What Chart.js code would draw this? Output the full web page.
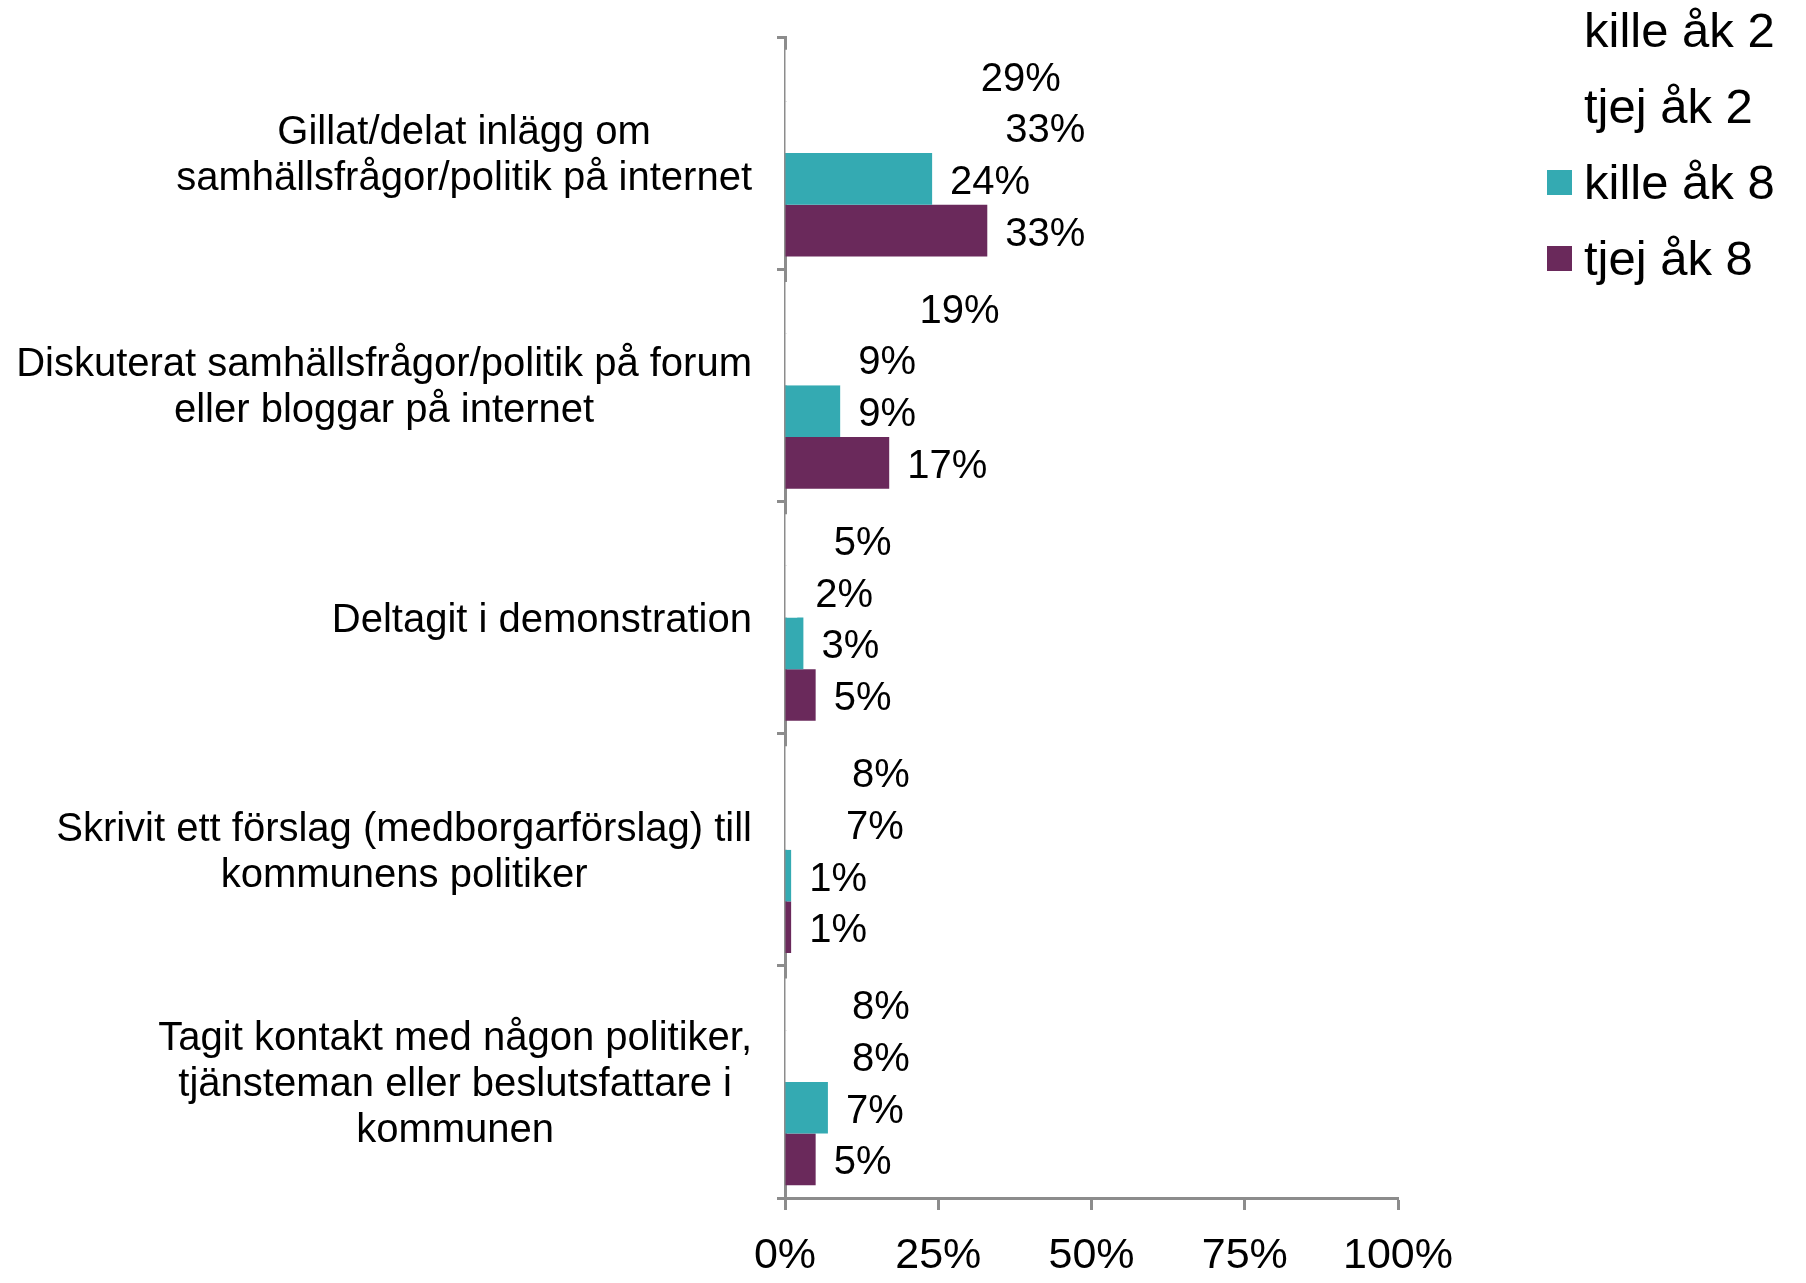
<!DOCTYPE html>
<html lang="sv">
<head>
    <meta charset="UTF-8">
    <title>Politiskt deltagande</title>
    <style>
        body { margin: 0; background: #fff; }
        #wrap { position: relative; width: 1806px; height: 1283px; }
        #legend {
            position: absolute; left: 1547px; top: -8px;
            font-family: 'Liberation Sans', Arial, sans-serif; font-size: 49px; color: #000;
        }
        .item { display: flex; align-items: center; height: 76px; white-space: nowrap; }
        .box { width: 25px; height: 25px; margin-right: 12px; }
    </style>
    <script src="https://cdn.jsdelivr.net/npm/chart.js"></script>
</head>
<body>
    <div id="wrap">
        <canvas id="myChart"></canvas>
        <div id="legend"></div>
    </div>
    <script>
        // data
        const categories = [
            ['Gillat/delat inlägg om', 'samhällsfrågor/politik på internet'],
            ['Diskuterat samhällsfrågor/politik på forum', 'eller bloggar på internet'],
            ['Deltagit i demonstration'],
            ['Skrivit ett förslag (medborgarförslag) till', 'kommunens politiker'],
            ['Tagit kontakt med någon politiker,', 'tjänsteman eller beslutsfattare i', 'kommunen']
        ];
        const seriesNames = ['kille åk 2', 'tjej åk 2', 'kille åk 8', 'tjej åk 8'];
        const killeAk2 = [29, 19, 5, 8, 8];
        const tjejAk2 = [33, 9, 2, 7, 8];
        const killeAk8 = [24, 9, 3, 1, 7];
        const tjejAk8 = [33, 17, 5, 1, 5];
        const xTicks = [0, 25, 50, 75, 100];

        const seriesColors = ['#ffffff', '#ffffff', '#34aab2', '#6a295b'];
        const FONT = "'Liberation Sans', Arial, sans-serif";
        const axisGray = '#8c8c8c';

        Chart.defaults.font.family = FONT;
        Chart.defaults.color = '#000';

        // kategori-etiketter, centrerade rader, högerställt block
        const catLabels = {
            id: 'catLabels',
            afterDraw(chart) {
                const ctx = chart.ctx, ys = chart.scales.y;
                ctx.save();
                ctx.font = '40px ' + FONT;
                ctx.fillStyle = '#000';
                ctx.textAlign = 'center';
                ctx.textBaseline = 'middle';
                categories.forEach(function (lines, i) {
                    const w = Math.max(...lines.map(l => ctx.measureText(l).width));
                    const cx = ys.right - 33 - w / 2;
                    const cy = ys.getPixelForValue(i) + 3;
                    lines.forEach(function (l, k) {
                        ctx.fillText(l, cx, cy + (k - (lines.length - 1) / 2) * 46);
                    });
                });
                ctx.restore();
            }
        };

        // värdeetiketter
        const valueLabels = {
            id: 'valueLabels',
            afterDatasetsDraw(chart) {
                const ctx = chart.ctx;
                ctx.save();
                ctx.font = '40px ' + FONT;
                ctx.fillStyle = '#000';
                ctx.textAlign = 'left';
                ctx.textBaseline = 'middle';
                chart.data.datasets.forEach(function (ds, di) {
                    chart.getDatasetMeta(di).data.forEach(function (bar, i) {
                        ctx.fillText(ds.data[i] + '%', bar.x + 18, bar.y + 4);
                    });
                });
                ctx.restore();
            }
        };

        const seriesData = [killeAk2, tjejAk2, killeAk8, tjejAk8];

        const ctx = document.getElementById('myChart');
        const mychart = new Chart(ctx, {
            type: 'bar',
            data: {
                labels: categories,
                datasets: seriesNames.map(function (name, i) {
                    return {
                        label: name,
                        data: seriesData[i],
                        backgroundColor: seriesColors[i],
                        borderWidth: 0,
                        categoryPercentage: 0.89,
                        barPercentage: 1.0
                    };
                })
            },
            options: {
                indexAxis: 'y',
                responsive: true,
                maintainAspectRatio: false,
                animation: false,
                layout: { padding: { top: 37, right: 408, bottom: 0, left: 0 } },
                plugins: {
                    legend: { display: false },
                    tooltip: { enabled: false }
                },
                scales: {
                    x: {
                        min: 0,
                        max: 100,
                        afterBuildTicks: function (s) { s.ticks = xTicks.map(v => ({ value: v })); },
                        afterFit: function (s) { s.height = 85; },
                        ticks: {
                            callback: v => v + '%',
                            font: { size: 43 },
                            color: '#000',
                            padding: 20,
                            maxRotation: 0
                        },
                        grid: {
                            drawOnChartArea: false,
                            drawTicks: true,
                            tickLength: 12,
                            tickColor: axisGray,
                            tickWidth: 3
                        },
                        border: { color: axisGray, width: 3 }
                    },
                    y: {
                        afterFit: function (s) { s.width = 785; },
                        ticks: { display: false },
                        grid: {
                            offset: true,
                            drawOnChartArea: false,
                            drawTicks: true,
                            tickLength: 8,
                            tickColor: axisGray,
                            tickWidth: 3
                        },
                        border: { color: axisGray, width: 3 }
                    }
                }
            },
            plugins: [catLabels, valueLabels]
        });

        // legend
        const legend = document.getElementById('legend');
        seriesNames.forEach(function (name, i) {
            const item = document.createElement('div');
            item.className = 'item';
            item.innerHTML = '<span class="box" style="background:' + seriesColors[i] + '"></span><span>' + name + '</span>';
            legend.appendChild(item);
        });
    </script>
</body>
</html>
